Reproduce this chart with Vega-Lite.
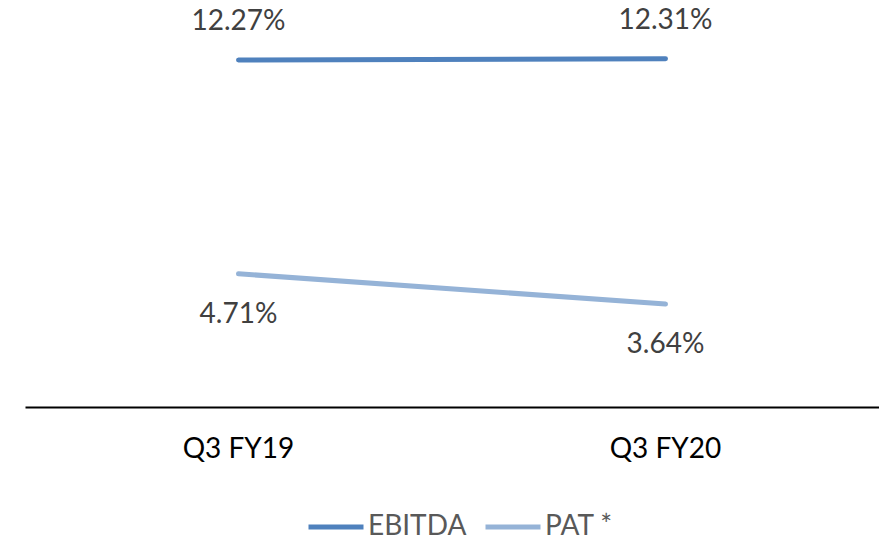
{
  "$schema": "https://vega.github.io/schema/vega-lite/v6.json",
  "width": 854,
  "height": 396,
  "autosize": {"type": "none"},
  "padding": {"left": 25, "top": 11, "right": 0, "bottom": 133},
  "background": "white",
  "config": {"view": {"stroke": null}, "font": "Lato"},
  "data": {"values": [
    {"period": "Q3 FY19", "series": "EBITDA", "value": 12.27, "label": "12.27%"},
    {"period": "Q3 FY20", "series": "EBITDA", "value": 12.31, "label": "12.31%"},
    {"period": "Q3 FY19", "series": "PAT *", "value": 4.71, "label": "4.71%"},
    {"period": "Q3 FY20", "series": "PAT *", "value": 3.64, "label": "3.64%"}
  ]},
  "encoding": {
    "x": {"field": "period", "type": "nominal", "sort": null,
      "scale": {"type": "band", "paddingInner": 0, "paddingOuter": 0},
      "axis": {"title": null, "ticks": false, "domainColor": "#000000", "domainWidth": 2,
        "labelFont": "Lato", "labelFontSize": 28, "labelColor": "#000000", "labelPadding": 28, "labelAngle": 0}},
    "y": {"field": "value", "type": "quantitative", "scale": {"domain": [0, 14], "nice": false}, "axis": null}
  },
  "layer": [
    {
      "mark": {"type": "line", "strokeWidth": 5, "strokeCap": "round"},
      "encoding": {
        "color": {"field": "series", "type": "nominal",
          "scale": {"domain": ["EBITDA", "PAT *"], "range": ["#4F81BD", "#95B3D7"]},
          "legend": {"title": null, "orient": "none", "direction": "horizontal", "legendX": 281, "legendY": 486,
            "symbolType": "stroke", "symbolSize": 3025, "symbolStrokeWidth": 5,
            "labelFont": "Lato", "labelFontSize": 28, "labelColor": "#595959", "labelOffset": 2, "columnPadding": 8}}
      }
    },
    {
      "transform": [{"filter": "datum.series == 'EBITDA'"}],
      "mark": {"type": "text", "dy": -38, "fontSize": 28, "font": "Lato", "color": "#404040"},
      "encoding": {"text": {"field": "label"}}
    },
    {
      "transform": [{"filter": "datum.series == 'PAT *'"}],
      "mark": {"type": "text", "dy": 41, "fontSize": 28, "font": "Lato", "color": "#404040"},
      "encoding": {"text": {"field": "label"}}
    }
  ]
}
